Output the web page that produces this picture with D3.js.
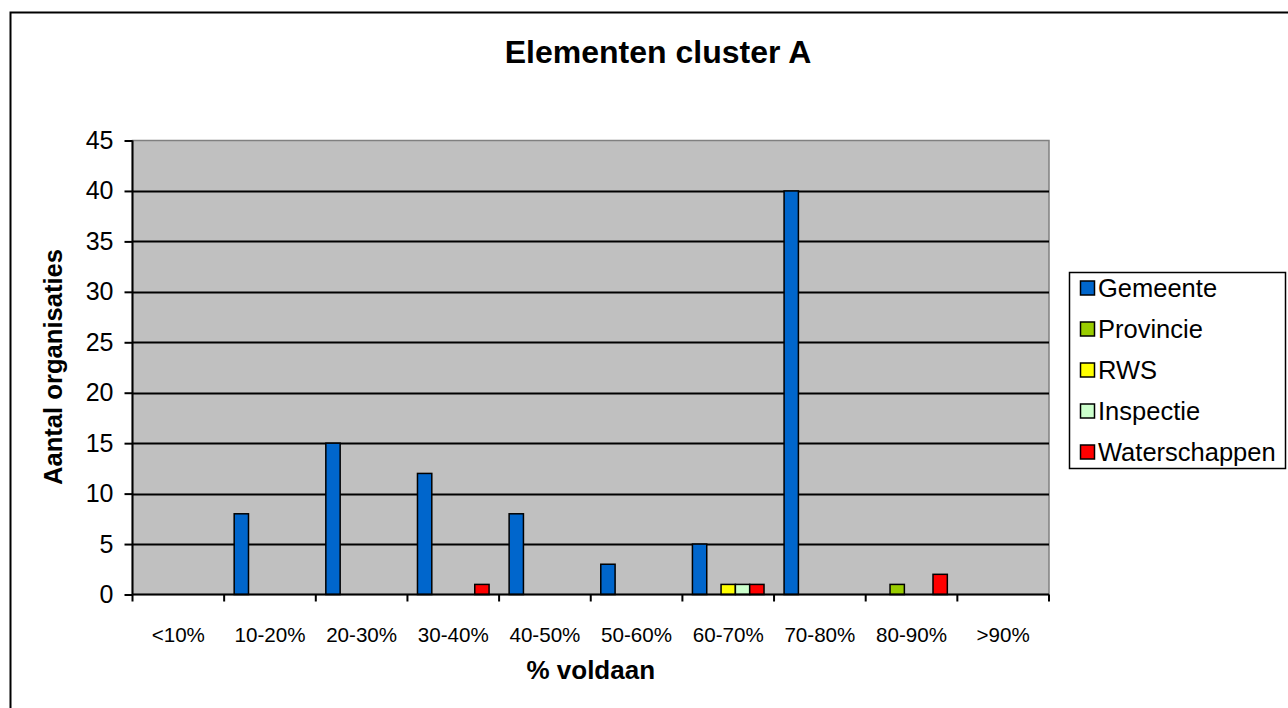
<!DOCTYPE html>
<html><head><meta charset="utf-8">
<script src="https://cdn.jsdelivr.net/npm/d3@7"></script>
<style>
html,body{margin:0;padding:0;background:#fff;}
svg{display:block;font-family:Arial,"Liberation Sans",sans-serif;}
</style></head>
<body>
<svg id="chart" width="1288" height="708"></svg>
<script>
const categories = ["<10%","10-20%","20-30%","30-40%","40-50%","50-60%","60-70%","70-80%","80-90%",">90%"];
const seriesNames = ["Gemeente","Provincie","RWS","Inspectie","Waterschappen"];
const seriesColors = ["#0066CC","#99CC00","#FFFF00","#CCFFCC","#FF0000"];
const gemeente      = [0,8,15,12,8,3,5,40,0,0];
const provincie     = [0,0,0,0,0,0,0,0,1,0];
const rws           = [0,0,0,0,0,0,1,0,0,0];
const inspectie     = [0,0,0,0,0,0,1,0,0,0];
const waterschappen = [0,0,0,1,0,0,1,0,2,0];
const yTicks = [0,5,10,15,20,25,30,35,40,45];
const title = "Elementen cluster A";
const xTitle = "% voldaan";
const yTitle = "Aantal organisaties";

const values = [gemeente, provincie, rws, inspectie, waterschappen];
const svg = d3.select("#chart");

// outer chart border
svg.append("rect").attr("x",10.5).attr("y",12.5).attr("width",1400).attr("height",800)
  .attr("fill","#fff").attr("stroke","#000").attr("stroke-width",2);

const L = 132.5, R = 1049, T = 140.5, B = 594.5;
const x0 = d3.scaleBand().domain(categories).range([L,R]).padding(0);
const x1 = d3.scaleBand().domain(seriesNames).range([0,x0.bandwidth()]).paddingInner(0).paddingOuter(0.7);
const y = d3.scaleLinear().domain([0,45]).range([B,T]);
const color = d3.scaleOrdinal().domain(seriesNames).range(seriesColors);

// plot area
svg.append("rect").attr("x",L).attr("y",T).attr("width",R-L).attr("height",B-T)
  .attr("fill","#C0C0C0").attr("stroke","#808080").attr("stroke-width",1.5);

// gridlines
svg.append("g").selectAll("line").data(yTicks.filter(v=>v>0 && v<45)).join("line")
  .attr("x1",L).attr("x2",R).attr("y1",d=>Math.round(y(d))+0.5).attr("y2",d=>Math.round(y(d))+0.5)
  .attr("stroke","#000").attr("stroke-width",2);

// bars
const data = [];
categories.forEach((c,i)=>seriesNames.forEach((s,j)=>{ if(values[j][i]>0) data.push({c,s,v:values[j][i]}); }));
svg.append("g").selectAll("rect").data(data).join("rect")
  .attr("x",d=>x0(d.c)+x1(d.s)).attr("width",x1.bandwidth())
  .attr("y",d=>y(d.v)).attr("height",d=>y(0)-y(d.v))
  .attr("fill",d=>color(d.s)).attr("stroke","#000").attr("stroke-width",1.5);

// y axis
const yAxis = svg.append("g").attr("transform",`translate(${L},0)`)
  .call(d3.axisLeft(y).tickValues(yTicks).tickSize(8).tickPadding(11).tickFormat(d3.format("d")));
yAxis.select(".domain").attr("stroke","#000").attr("stroke-width",2).attr("d",`M0,${T}V${B}`);
yAxis.selectAll(".tick line").attr("stroke","#000").attr("stroke-width",2);
yAxis.selectAll(".tick text").attr("font-size",25).attr("fill","#000").attr("font-family","Arial,'Liberation Sans',sans-serif");

// x axis baseline
svg.append("line").attr("x1",L).attr("x2",R).attr("y1",B).attr("y2",B).attr("stroke","#000").attr("stroke-width",2);
const bounds = categories.map(c=>x0(c)).concat([R]);
svg.append("g").selectAll("line").data(bounds).join("line")
  .attr("x1",d=>d).attr("x2",d=>d).attr("y1",B).attr("y2",B+7).attr("stroke","#000").attr("stroke-width",2);
svg.append("g").selectAll("text").data(categories).join("text")
  .attr("x",d=>x0(d)+x0.bandwidth()/2).attr("y",642).attr("text-anchor","middle")
  .attr("font-size",20.6).attr("fill","#000").text(d=>d);

// titles
svg.append("text").attr("x",658).attr("y",63).attr("text-anchor","middle")
  .attr("font-size",32).attr("font-weight","bold").text(title);
svg.append("text").attr("x",(L+R)/2).attr("y",679).attr("text-anchor","middle")
  .attr("font-size",26).attr("font-weight","bold").text(xTitle);
svg.append("text").attr("transform",`translate(62,367) rotate(-90)`).attr("text-anchor","middle")
  .attr("font-size",25.6).attr("font-weight","bold").text(yTitle);

// legend
const lg = svg.append("g");
lg.append("rect").attr("x",1069.5).attr("y",272.5).attr("width",216).attr("height",196)
  .attr("fill","#fff").attr("stroke","#000").attr("stroke-width",1.5);
const items = lg.selectAll("g.item").data(seriesNames).join("g").attr("class","item")
  .attr("transform",(d,i)=>`translate(1080,${288+i*41})`);
items.append("rect").attr("x",0.5).attr("y",-7).attr("width",14).attr("height",14)
  .attr("fill",d=>color(d)).attr("stroke","#000").attr("stroke-width",1.5);
items.append("text").attr("x",18).attr("y",9).attr("font-size",25.5).attr("fill","#000").text(d=>d);
</script>
</body></html>
